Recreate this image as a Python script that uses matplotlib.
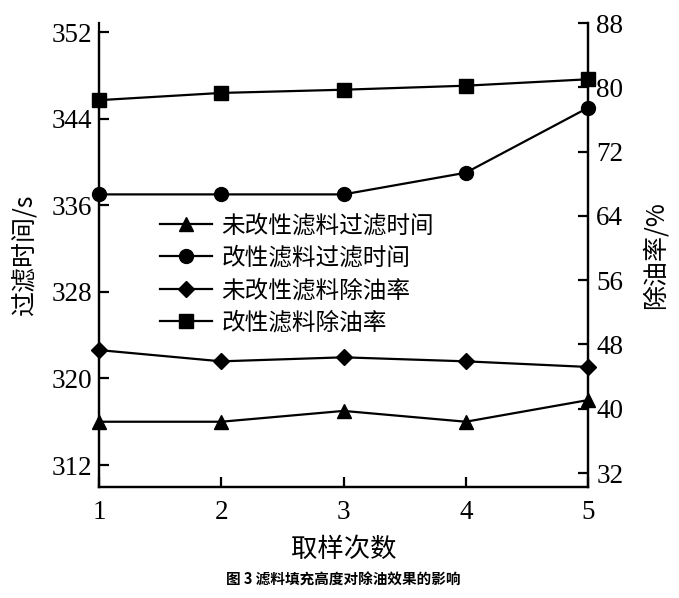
import matplotlib.pyplot as plt

# 取样次数
samples = [1, 2, 3, 4, 5]
# 过滤时间 / s (左轴)
time_raw = [316, 316, 317, 316, 318]
time_mod = [337, 337, 337, 339, 345]
# 除油率 / % (右轴)
rate_raw = [47.3, 45.9, 46.4, 45.9, 45.2]
rate_mod = [78.4, 79.3, 79.7, 80.2, 81.0]

labels = ['未改性滤料过滤时间', '改性滤料过滤时间', '未改性滤料除油率', '改性滤料除油率']

num_font = 'Liberation Serif'
cjk_font = ['Noto Sans CJK SC', 'DejaVu Sans']

fig = plt.figure(figsize=(6.79, 5.98), dpi=100)
ax = fig.add_axes([0.1458, 0.1856, 0.7202, 0.7759])
ax2 = ax.twinx()

lw = 1.6
l1, = ax.plot(samples, time_raw, '-^', color='black', lw=lw, ms=10, label=labels[0])
l2, = ax.plot(samples, time_mod, '-o', color='black', lw=lw, ms=10, label=labels[1])
l3, = ax2.plot(samples, rate_raw, '-D', color='black', lw=lw, ms=8.5, label=labels[2])
l4, = ax2.plot(samples, rate_mod, '-s', color='black', lw=lw, ms=9.5, label=labels[3])
for ln in (l1, l2, l3, l4):
    ln.set_clip_on(False)

ax.set_xlim(1, 5)
ax.set_ylim(309.97, 352.83)
ax2.set_ylim(30.26, 88)
ax.set_xticks(samples)
ax.set_yticks([312, 320, 328, 336, 344, 352])
ax2.set_yticks([32, 40, 48, 56, 64, 72, 80, 88])

ax.spines['top'].set_visible(False)
ax2.spines['top'].set_visible(False)
ax.spines['left'].set_bounds(309.97, 352)
for a in (ax, ax2):
    for s in a.spines.values():
        s.set_linewidth(1.6)

ax.tick_params(axis='both', direction='in', length=7, width=1.6, labelsize=19.5)
ax.tick_params(axis='x', pad=9)
ax.tick_params(axis='y', pad=5)
ax2.tick_params(axis='y', direction='in', length=7, width=1.6, labelsize=19.5, pad=6)
for t in ax.get_xticklabels() + ax.get_yticklabels() + ax2.get_yticklabels():
    t.set_fontfamily(num_font)

ax.set_xlabel('取样次数', family=cjk_font, fontsize=19, labelpad=8)
ax.set_ylabel('过滤时间/s', family=cjk_font, fontsize=18, labelpad=10)
ax2.set_ylabel('除油率/%', family=cjk_font, fontsize=18, labelpad=14)

leg = ax2.legend(handles=[l1, l2, l3, l4], loc='upper left',
                 bbox_to_anchor=(0.2356, 0.642), bbox_transform=fig.transFigure,
                 frameon=False, handlelength=2.2, handletextpad=0.4,
                 labelspacing=0.4, borderpad=0, borderaxespad=0,
                 prop={'family': cjk_font, 'size': 17})

fig.text(0.505, 0.03, '图 3 滤料填充高度对除油效果的影响', ha='center', va='center',
         family=cjk_font, fontsize=10.5, fontweight='bold')

fig.savefig('out.png', dpi=100)
